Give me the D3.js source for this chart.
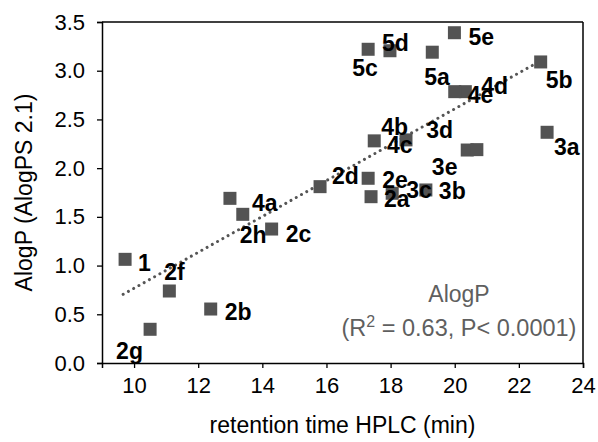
<!DOCTYPE html>
<html>
<head>
<meta charset="utf-8">
<script src="https://cdn.jsdelivr.net/npm/d3@7"></script>
<style>
  html, body { margin: 0; padding: 0; background: #fff; }
  svg { display: block; }
</style>
</head>
<body>
<svg id="chart" width="598" height="442"></svg>
<script>
// ---- data ----
const compounds = ["1","2a","2b","2c","2d","2e","2f","2g","2h","3a","3b","3c","3d","3e","4a","4b","4c","4d","4e","5a","5b","5c","5d","5e"];
const retentionTime = [9.72,17.39,12.39,14.29,15.80,17.30,11.10,10.50,13.39,22.88,19.10,18.05,20.39,20.69,12.99,17.49,18.48,20.33,20.00,19.30,22.68,17.30,17.98,19.99];
const alogP = [1.064,1.707,0.554,1.375,1.81,1.896,0.739,0.346,1.526,2.368,1.776,1.742,2.186,2.19,1.69,2.28,2.29,2.785,2.785,3.19,3.09,3.22,3.205,3.39];
const trendX = [9.66, 22.45];
const trendY = [0.705, 3.06];
const xTicks = [10,12,14,16,18,20,22,24];
const yTicks = [0,0.5,1,1.5,2,2.5,3,3.5];
const xTitle = "retention time HPLC (min)";
const yTitle = "AlogP (AlogPS 2.1)";
const noteLine1 = "AlogP";

// label placement offsets (layout only): [dx to text start, dy to baseline] in px
const labelOffset = {
  "1":[13,12], "2a":[13,10], "2b":[14,11], "2c":[14,13], "2d":[12,-3], "2e":[14,10],
  "2f":[-5,-11], "2g":[-34,30], "2h":[-3,29], "3a":[7,23], "3b":[13,9], "3c":[14,5],
  "3d":[-41,-12], "3e":[-45,25], "4a":[22,13], "4b":[7,-6], "4c":[-19,13], "4d":[16,2],
  "4e":[13,11], "5a":[-8,33], "5b":[5,26], "5c":[-16,27], "5d":[-8,0], "5e":[14,12]
};

// ---- layout ----
const svg = d3.select("#chart");
const mLeft = 102, mRight = 583, mTop = 22, mBottom = 363;
const x = d3.scaleLinear().domain([9, 24]).range([mLeft, mRight]);
const y = d3.scaleLinear().domain([0, 3.5]).range([mBottom, mTop]);
const font = "Arial, 'Liberation Sans', Helvetica, sans-serif";

// frame (top, right)
svg.append("line").attr("x1", mLeft).attr("x2", mRight).attr("y1", mTop).attr("y2", mTop)
  .attr("stroke", "#000").attr("stroke-width", 1.5);
svg.append("line").attr("x1", mRight).attr("x2", mRight).attr("y1", mTop).attr("y2", mBottom)
  .attr("stroke", "#000").attr("stroke-width", 1.5);

// axes
const xAxis = svg.append("g").attr("transform", `translate(0,${mBottom})`)
  .call(d3.axisBottom(x).tickValues(xTicks).tickFormat(d3.format("d")).tickSizeOuter(0).tickSize(5).tickPadding(9));
const yAxis = svg.append("g").attr("transform", `translate(${mLeft},0)`)
  .call(d3.axisLeft(y).tickValues(yTicks).tickFormat(d3.format(".1f")).tickSizeOuter(0).tickSize(5).tickPadding(12));
[xAxis, yAxis].forEach(g => {
  g.select(".domain").attr("stroke", "#000").attr("stroke-width", 1.5);
  g.selectAll(".tick line").attr("stroke", "#000").attr("stroke-width", 1.3);
  g.selectAll(".tick text").attr("fill", "#000").style("font-family", font).style("font-size", "22px");
});

// axis titles
svg.append("text").attr("x", (mLeft + mRight) / 2).attr("y", 433).attr("text-anchor", "middle")
  .style("font-family", font).style("font-size", "23px").attr("fill", "#000").text(xTitle);
svg.append("text").attr("transform", `translate(32,${(mTop + mBottom) / 2}) rotate(-90)`)
  .attr("text-anchor", "middle")
  .style("font-family", font).style("font-size", "23px").attr("fill", "#000").text(yTitle);

// trend line (dotted)
svg.append("line")
  .attr("x1", x(trendX[0])).attr("y1", y(trendY[0]))
  .attr("x2", x(trendX[1])).attr("y2", y(trendY[1]))
  .attr("stroke", "#555").attr("stroke-width", 3)
  .attr("stroke-linecap", "round").attr("stroke-dasharray", "0.01,6");

// points
const pts = compounds.map((c, i) => ({ c, t: retentionTime[i], a: alogP[i] }));
const sq = 13;
svg.append("g").selectAll("rect").data(pts).join("rect")
  .attr("x", d => x(d.t) - sq / 2).attr("y", d => y(d.a) - sq / 2)
  .attr("width", sq).attr("height", sq).attr("fill", "#535353");

// labels
svg.append("g").selectAll("text").data(pts).join("text")
  .attr("x", d => x(d.t) + labelOffset[d.c][0])
  .attr("y", d => y(d.a) + labelOffset[d.c][1])
  .style("font-family", font).style("font-size", "23px").style("font-weight", "bold")
  .attr("fill", "#000").text(d => d.c);

// annotation
const noteX = 459;
svg.append("text").attr("x", noteX).attr("y", 302).attr("text-anchor", "middle")
  .style("font-family", font).style("font-size", "23px").attr("fill", "#5f5f5f").text(noteLine1);
const n2 = svg.append("text").attr("x", noteX).attr("y", 336).attr("text-anchor", "middle")
  .style("font-family", font).style("font-size", "23.5px").attr("fill", "#5f5f5f");
n2.append("tspan").text("(R");
n2.append("tspan").attr("dy", -9).style("font-size", "16px").text("2");
n2.append("tspan").attr("dy", 9).text(" = 0.63, P< 0.0001)");
</script>
</body>
</html>
